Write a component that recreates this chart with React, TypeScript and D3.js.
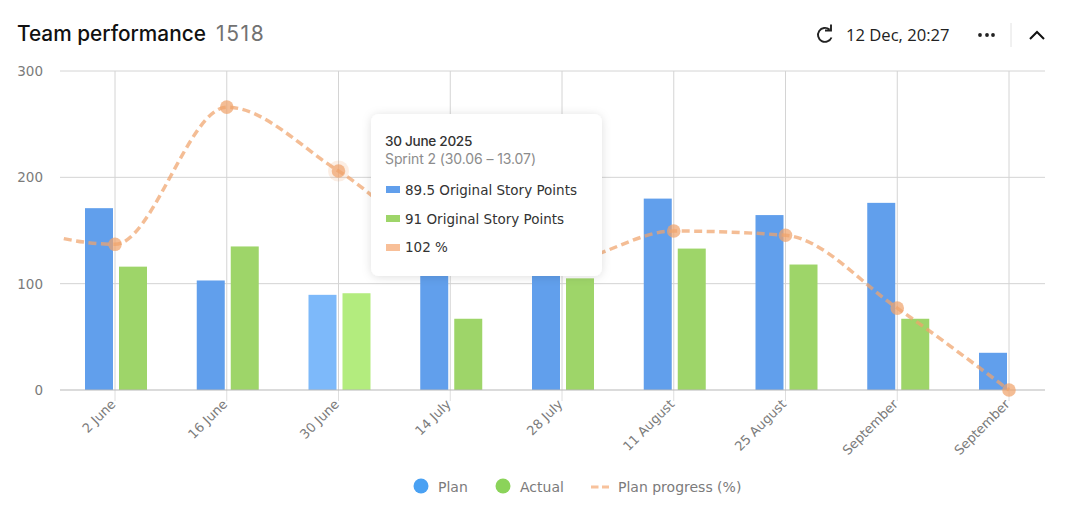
import React from "react";
import * as d3 from "d3";

const categories = ["2 June", "16 June", "30 June", "14 July", "28 July", "11 August", "25 August", "September", "September"];
const plan = [171, 103, 89.5, 125, 120, 180, 164.5, 176, 35];
const actual = [116, 135, 91, 67, 105, 133, 118, 67, 0];
const progress = [137, 266, 206, 135, 121, 149.5, 145.5, 77, 0];
const leadIn = 157;
const yTicks = [0, 100, 200, 300];
const highlighted = 2;

const W = 1067, H = 525;
const F = "'DejaVu Sans', sans-serif";

export default function App() {
  const x = d3.scaleLinear().domain([0, 8]).range([115, 1009]);
  const y = d3.scaleLinear().domain([0, 300]).range([390, 71]);
  const barW = 28;
  const pts: [number, number][] = [[-1, leadIn], ...progress.map((v, i) => [i, v] as [number, number])];
  const line = d3.line<[number, number]>().x(d => x(d[0])).y(d => y(d[1])).curve(d3.curveMonotoneX);
  return (
    <svg width={W} height={H} style={{ position: "fixed", left: 0, top: 0, background: "#fff" }}>
      <defs>
        <clipPath id="plot"><rect x={60} y={60} width={985} height={345} /></clipPath>
        <filter id="sh" x="-20%" y="-20%" width="140%" height="140%">
          <feDropShadow dx="0" dy="1" stdDeviation="5" floodColor="#000" floodOpacity="0.13" />
        </filter>
      </defs>
      <text x={17} y={41} fontFamily="Inter, sans-serif" fontWeight={500} fontSize={20.8} fill="#111">Team performance</text>
      <text x={216} y={41} fontFamily="Inter, sans-serif" fontWeight={400} fontSize={21} letterSpacing={1.6} fill="#727272">1518</text>
      <path d="M831.5 37.5 A7 7 0 1 1 829.5 29.5 M831 24.5 L831 30.5 L825 30.5" fill="none" stroke="#222" strokeWidth={1.9} />
      <text x={846} y={41} fontFamily="'Open Sans', sans-serif" fontSize={16.6} fill="#222">12 Dec, 20:27</text>
      {[980, 987, 993].map(c => <circle key={c} cx={c} cy={35} r={1.9} fill="#222" />)}
      <line x1={1011} x2={1011} y1={23} y2={47} stroke="#e2e2e2" />
      <path d="M1030 39 L1037 32 L1044 39" fill="none" stroke="#111" strokeWidth={2} />

      {yTicks.filter(t => t > 0).map(t => <line key={t} x1={60} x2={1045} y1={y(t)} y2={y(t)} stroke="#d4d4d4" />)}
      {categories.map((_, i) => <line key={i} x1={x(i)} x2={x(i)} y1={71} y2={390} stroke="#d4d4d4" />)}
      {categories.map((_, i) => <line key={i} x1={x(i)} x2={x(i)} y1={390} y2={401} stroke="#dedede" />)}
      {yTicks.map(t => <text key={t} x={43} y={y(t) + 5} textAnchor="end" fontFamily={F} fontSize={13.5} fill="#7b7b7b">{t}</text>)}

      {plan.map((v, i) => (
        <rect key={i} x={x(i) - 30} y={y(v)} width={barW} height={390 - y(v)} fill={i === highlighted ? "#7db9fa" : "#619fec"} />
      ))}
      {actual.map((v, i) => (
        <rect key={i} x={x(i) + 4} y={y(v)} width={barW} height={390 - y(v)} fill={i === highlighted ? "#b3ec7e" : "#9ed569"} />
      ))}
      <line x1={60} x2={1045} y1={390} y2={390} stroke="#b8b8b8" strokeWidth={1.2} />

      <path d={line(pts) ?? ""} clipPath="url(#plot)" fill="none" stroke="#f0a36c" strokeOpacity={0.72} strokeWidth={3.5} strokeDasharray="8 4.5" />
      {progress.map((v, i) => (
        <g key={i}>
          {i === highlighted && <circle cx={x(i)} cy={y(v)} r={10.5} fill="#f0a36c" fillOpacity={0.18} />}
          <circle cx={x(i)} cy={y(v)} r={6.8} fill="#f0a36c" fillOpacity={0.72} />
        </g>
      ))}

      {categories.map((c, i) => (
        <text key={i} transform={`translate(${x(i) + 1.5},${405}) rotate(-45)`} textAnchor="end" fontFamily={F} fontSize={13} fill="#7b7b7b">{c}</text>
      ))}

      <circle cx={421} cy={486} r={7.5} fill="#4aa1f3" />
      <text x={438} y={492} fontFamily={F} fontSize={14} fill="#7b7b7b">Plan</text>
      <circle cx={503} cy={486} r={7.5} fill="#8bd35a" />
      <text x={520} y={492} fontFamily={F} fontSize={14} fill="#7b7b7b">Actual</text>
      <line x1={591} x2={609} y1={487} y2={487} stroke="#f8c29c" strokeWidth={3} strokeDasharray="7.5 3.5" />
      <text x={618} y={492} fontFamily={F} fontSize={14} fill="#7b7b7b">Plan progress (%)</text>

      <rect x={371} y={114} width={231} height={162} rx={8} fill="#fff" filter="url(#sh)" />
      <text x={385} y={146} fontFamily="Inter, sans-serif" fontWeight={500} fontSize={13.6} letterSpacing={-0.3} fill="#333">30 June 2025</text>
      <text x={385} y={164} fontFamily="Inter, sans-serif" fontSize={14} letterSpacing={-0.1} fill="#8c8c8c">Sprint 2 (30.06 – 13.07)</text>
      <rect x={386} y={186} width={14} height={7} fill="#619fec" />
      <text x={405} y={195} fontFamily={F} fontSize={13.5} fill="#333">89.5 Original Story Points</text>
      <rect x={386} y={215} width={14} height={7} fill="#9ed569" />
      <text x={405} y={224} fontFamily={F} fontSize={13.5} fill="#333">91 Original Story Points</text>
      <rect x={386} y={244} width={14} height={7} fill="#f8bf98" />
      <text x={405} y={252} fontFamily={F} fontSize={13.5} fill="#333">102 %</text>
    </svg>
  );
}
